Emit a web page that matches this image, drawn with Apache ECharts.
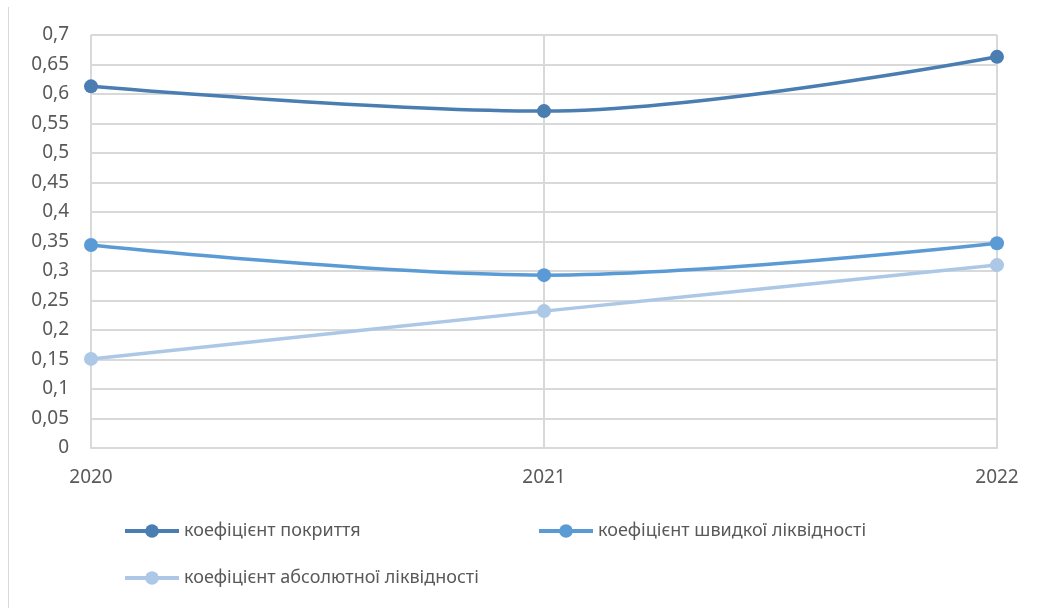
<!DOCTYPE html>
<html lang="uk">
<head>
    <meta charset="UTF-8">
    <title>Коефіцієнти ліквідності</title>
    <script src="https://cdn.jsdelivr.net/npm/echarts@6/dist/echarts.min.js"></script>
</head>
<body style="margin:0">
<div id="box" style="width: 1044px;height: 608px;"></div>
<script>
    var years = ['2020', '2021', '2022'];
    var pokryttya = [0.613, 0.571, 0.663];
    var shvydkoi = [0.344, 0.293, 0.347];
    var absolyutnoi = [0.151, 0.232, 0.310];
    var names = ['коефіцієнт покриття', 'коефіцієнт швидкої ліквідності', 'коефіцієнт абсолютної ліквідності'];
    var colors = ['#4a7db1', '#5b9bd5', '#adc7e7'];

    var myChart = echarts.init(document.getElementById('box'));
    var font = 'Noto Sans';

    function mkSeries(i, data) {
        return {
            name: names[i],
            type: 'line',
            data: data,
            smooth: 0.35,
            symbol: 'circle',
            symbolSize: 14,
            itemStyle: {color: colors[i]},
            lineStyle: {width: 3.5, color: colors[i]}
        };
    }

    function mkLegend(i, left, top) {
        return {
            data: [names[i]],
            left: left,
            top: top,
            padding: 0,
            itemWidth: 54,
            itemHeight: 17,
            itemGap: 4,
            lineStyle: {width: 4},
            textStyle: {fontFamily: font, fontSize: 18, color: '#595959'}
        };
    }

    var option = {
        animation: false,
        backgroundColor: '#fff',
        color: colors,
        grid: {left: 91, right: 47, top: 35, bottom: 160},
        legend: [
            mkLegend(0, 123, 522),
            mkLegend(1, 537, 522),
            mkLegend(2, 123, 569)
        ],
        xAxis: {
            type: 'category',
            data: years,
            boundaryGap: false,
            axisLine: {lineStyle: {color: '#d9d9d9', width: 2}},
            axisTick: {show: false},
            axisLabel: {fontFamily: font, fontSize: 19, color: '#595959', margin: 20},
            splitLine: {show: true, lineStyle: {color: '#d9d9d9', width: 2}}
        },
        yAxis: {
            type: 'value',
            min: 0,
            max: 0.7,
            interval: 0.05,
            axisLine: {show: false},
            axisTick: {show: false},
            axisLabel: {
                fontFamily: font, fontSize: 19, color: '#595959', margin: 22,
                formatter: function (v) {
                    return String(Math.round(v * 100) / 100).replace('.', ',');
                }
            },
            splitLine: {lineStyle: {color: '#d9d9d9', width: 2}}
        },
        graphic: [{
            type: 'line',
            shape: {x1: 8.5, y1: 7, x2: 8.5, y2: 608},
            style: {stroke: '#d9d9d9', lineWidth: 1}
        }],
        series: [
            mkSeries(0, pokryttya),
            mkSeries(1, shvydkoi),
            mkSeries(2, absolyutnoi)
        ]
    };
    myChart.setOption(option);
</script>
</body>
</html>
